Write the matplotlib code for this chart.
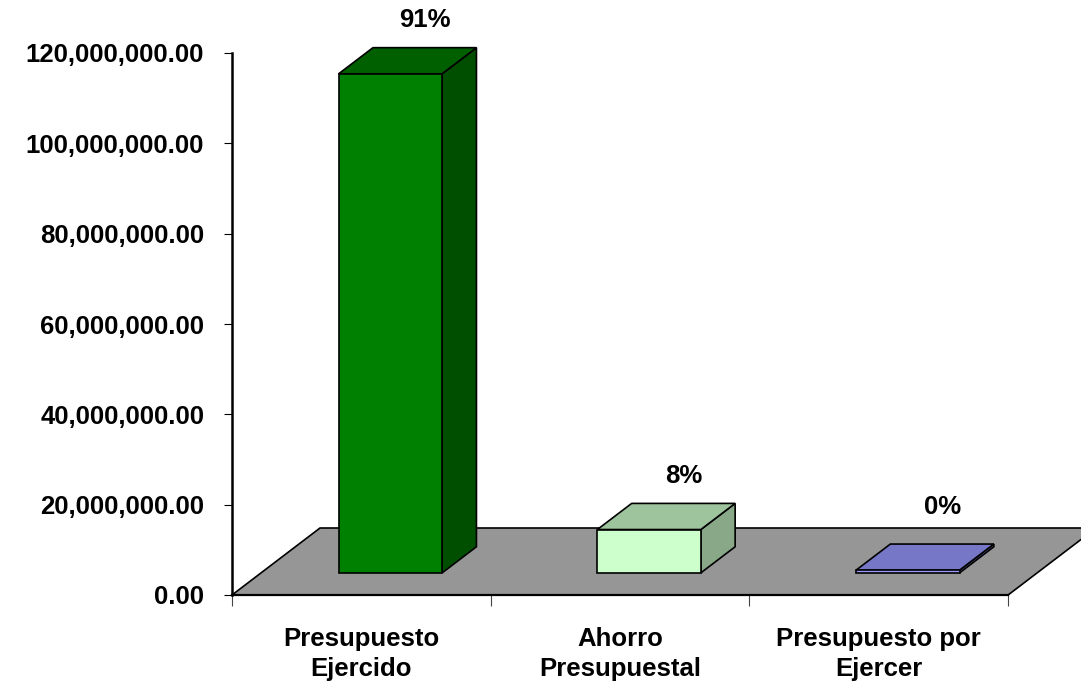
import matplotlib
matplotlib.use("Agg")
from matplotlib import pyplot as plt
from matplotlib.patches import Polygon
from matplotlib.ticker import FuncFormatter

# Data
categories = ["Presupuesto\nEjercido", "Ahorro\nPresupuestal", "Presupuesto por\nEjercer"]
values = [110.5e6, 9.6e6, 0.6e6]
pct_labels = ["91%", "8%", "0%"]
y_ticks = [0, 20e6, 40e6, 60e6, 80e6, 100e6, 120e6]

# face colours per bar: front, top, side
face_colors = [
    ("#008000", "#006000", "#004f00"),
    ("#ccffcc", "#9ec49e", "#88a888"),
    ("#9999ff", "#7777c8", "#6666b0"),
]

plt.rcParams['font.family'] = ['Liberation Sans', 'DejaVu Sans']
plt.rcParams['font.weight'] = 'bold'
FS = 18.5

fig = plt.figure(figsize=(10.81, 6.83), dpi=100)
W, H = 1081, 683
ax = fig.add_axes([232 / W, (H - 595) / H, (W - 232) / W, (595 - 53) / H])
ax.set_ylim(0, 120e6)
px_per_unit = 258.7
ax.set_xlim(-0.5, -0.5 + (W - 232) / px_per_unit)

# oblique depth of the floor (data units)
DX = 88 / px_per_unit
DY = 67 / 542 * 120e6
f_front, f_back = 0.33, 0.72
half_w = 0.2

# floor
n = len(categories)
floor = Polygon([(-0.5, 0), (n - 0.5, 0), (n - 0.5 + DX, DY), (-0.5 + DX, DY)],
                closed=True, facecolor="#969696", edgecolor="black", lw=1.2,
                clip_on=False, zorder=1)
ax.add_patch(floor)
ax.plot([-0.5, n - 0.5], [0, 0], color="black", lw=1.6, clip_on=False, zorder=2)

for i, v in enumerate(values):
    fc, tc, sc = face_colors[i]
    x0 = i - half_w + f_front * DX
    x1 = i + half_w + f_front * DX
    y0 = f_front * DY
    ddx = (f_back - f_front) * DX
    ddy = (f_back - f_front) * DY
    front = [(x0, y0), (x1, y0), (x1, y0 + v), (x0, y0 + v)]
    top = [(x0, y0 + v), (x1, y0 + v), (x1 + ddx, y0 + v + ddy), (x0 + ddx, y0 + v + ddy)]
    side = [(x1, y0), (x1 + ddx, y0 + ddy), (x1 + ddx, y0 + v + ddy), (x1, y0 + v)]
    for pts, c in [(side, sc), (top, tc), (front, fc)]:
        ax.add_patch(Polygon(pts, closed=True, facecolor=c, edgecolor="black",
                             lw=1.2, clip_on=False, zorder=3))
    off = 20 if v > 2e6 else 27
    ax.annotate(pct_labels[i], xy=((x0 + x1) / 2 + ddx, y0 + v + ddy),
                xytext=(0, off), textcoords="offset points",
                ha="center", va="center", fontsize=FS, fontweight="bold",
                annotation_clip=False)

# axes styling
for s in ["top", "right", "bottom"]:
    ax.spines[s].set_visible(False)
ax.spines["left"].set_linewidth(1.8)
ax.set_yticks(y_ticks)
ax.yaxis.set_major_formatter(FuncFormatter(lambda v, p: f"{v:,.2f}"))
ax.tick_params(axis="y", direction="out", length=6, width=0.8, pad=14,
               labelsize=FS, colors="black")
ax.set_xticks(range(n))
ax.set_xticklabels(categories, fontsize=FS, fontweight="bold", linespacing=1.3)
ax.set_xticks([k - 0.5 for k in range(n + 1)], minor=True)
ax.tick_params(axis="x", which="major", length=0, pad=23)
ax.tick_params(axis="x", which="minor", length=8, width=0.8, color="#444444")
for lbl in ax.get_yticklabels():
    lbl.set_fontweight("bold")

fig.savefig("out.png", dpi=100)
